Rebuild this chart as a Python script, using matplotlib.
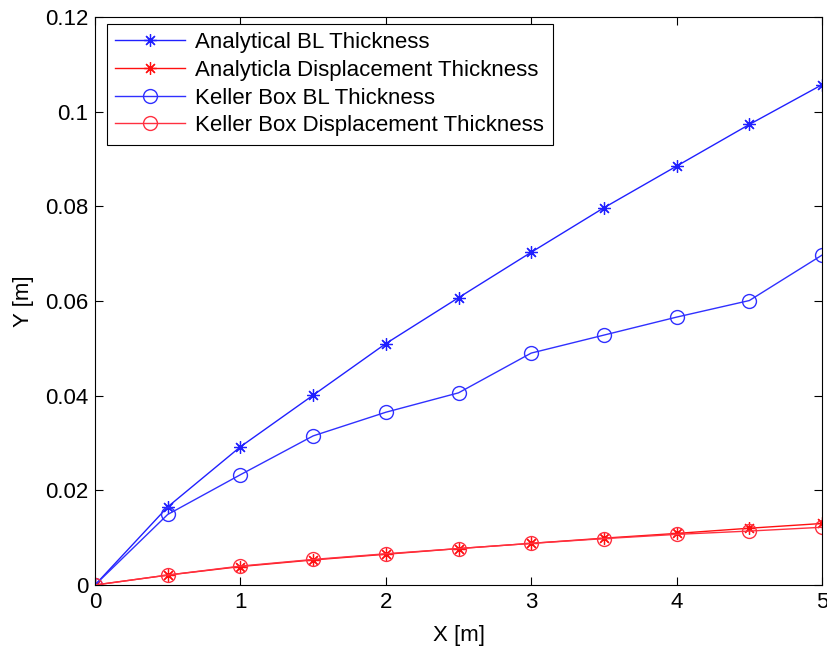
import matplotlib.pyplot as plt

plt.rcParams['font.family'] = ['Liberation Sans', 'DejaVu Sans']

x = [0, 0.5, 1, 1.5, 2, 2.5, 3, 3.5, 4, 4.5, 5]
analytical_bl = [0, 0.0165, 0.0292, 0.0401, 0.0510, 0.0607, 0.0703, 0.0797, 0.0885, 0.0973, 0.1057]
analytical_disp = [0, 0.0021, 0.0039, 0.0053, 0.0065, 0.0077, 0.0088, 0.0099, 0.0109, 0.0120, 0.0130]
keller_bl = [0, 0.0149, 0.0233, 0.0315, 0.0365, 0.0406, 0.0490, 0.0528, 0.0566, 0.0601, 0.0697]
keller_disp = [0, 0.0021, 0.0040, 0.0054, 0.0066, 0.0077, 0.0088, 0.0098, 0.0107, 0.0114, 0.0122]

star = (8, 2, 0)  # matlab-style asterisk

fig = plt.figure(figsize=(8.28, 6.47), dpi=100)
ax = fig.add_axes([0.1147, 0.0958, 0.8781, 0.8779])

ax.plot(x, analytical_bl, color='#2020ff', marker=star, markersize=9, mew=0.9, lw=1,
        label='Analytical BL Thickness')
ax.plot(x, analytical_disp, color='#ff1010', marker=star, markersize=9, mew=0.9, lw=1,
        label='Analyticla Displacement Thickness')
ax.plot(x, keller_bl, color='#3030ff', marker='o', markersize=10, mfc='none', lw=1,
        label='Keller Box BL Thickness')
ax.plot(x, keller_disp, color='#ff3040', marker='o', markersize=10, mfc='none', lw=1,
        label='Keller Box Displacement Thickness')

ax.set_xlim(0, 5)
ax.set_ylim(0, 0.12)
ax.set_xticks([0, 1, 2, 3, 4, 5])
ax.set_yticks([0, 0.02, 0.04, 0.06, 0.08, 0.1, 0.12])
ax.set_yticklabels(['0', '0.02', '0.04', '0.06', '0.08', '0.1', '0.12'])
ax.tick_params(direction='in', top=True, right=True, labelsize=16, length=6, pad=5)
ax.set_xlabel('X [m]', fontsize=16, labelpad=9)
ax.set_ylabel('Y [m]', fontsize=16, labelpad=8)

leg = ax.legend(loc='upper left', bbox_to_anchor=(0.0165, 0.988), fontsize=16,
                fancybox=False, edgecolor='black', framealpha=1,
                borderpad=0.38, labelspacing=0.3, handlelength=3.15, handletextpad=0.45,
                borderaxespad=0)
leg.get_frame().set_linewidth(0.8)

fig.savefig('out.png', dpi=100)
